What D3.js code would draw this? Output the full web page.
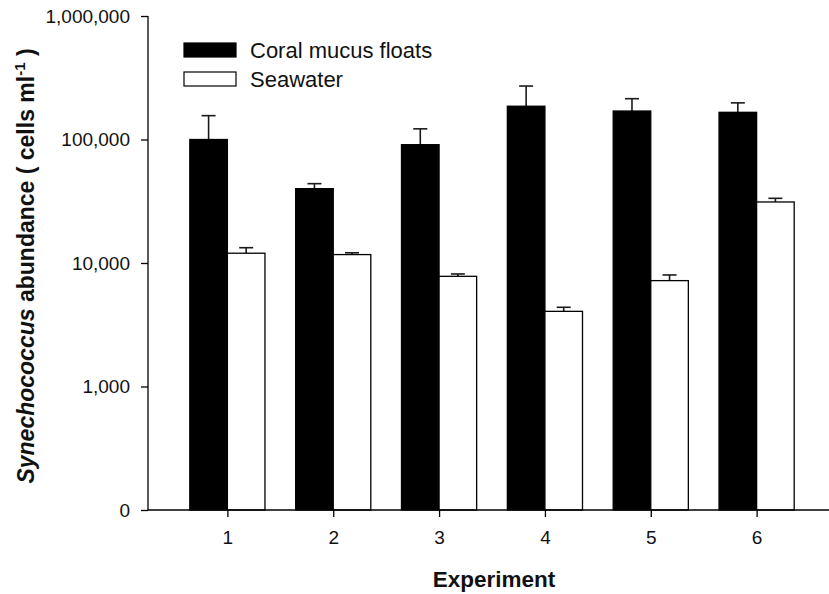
<!DOCTYPE html>
<html>
<head>
<meta charset="utf-8">
<script src="https://cdn.jsdelivr.net/npm/d3@7"></script>
<style>
  html, body { margin: 0; padding: 0; background: #fff; }
  svg { display: block; }
  text { font-family: Arial, "Liberation Sans", sans-serif; fill: #111; }
</style>
</head>
<body>
<svg id="chart" width="829" height="594"></svg>
<script>
// Synechococcus counts per experiment (cells per ml)
const experiments = [1, 2, 3, 4, 5, 6];
const mucusMean  = [100000, 40000, 90800, 186000, 170000, 166000];
const mucusUpper = [156000, 43900, 122000, 271000, 214000, 198000];
const seaMean    = [12000, 11700, 7800, 4060, 7200, 31200];
const seaUpper   = [13300, 12100, 8150, 4380, 8000, 33400];
const yTicks = [100, 1000, 10000, 100000, 1000000];
const yTickLabels = ["0", "1,000", "10,000", "100,000", "1,000,000"];
const seriesNames = ["Coral mucus floats", "Seawater"];

const svg = d3.select("#chart");

const plotLeft = 148, plotBottom = 510, plotTop = 16;
const x = d3.scaleLinear().domain([0.25, 6.75]).range([plotLeft, 836]);
const y = d3.scaleLog().domain([100, 1000000]).range([plotBottom, plotTop]);
const barW = x(0.355) - x(0);

// bars
const mucusBars = experiments.map((e, i) => ({ e, v: mucusMean[i], up: mucusUpper[i], off: -barW, fill: "#000" }));
const seaBars = experiments.map((e, i) => ({ e, v: seaMean[i], up: seaUpper[i], off: 0, fill: "#fff" }));
const bars = mucusBars.concat(seaBars);

// error bars (upper only)
const eg = svg.append("g").attr("stroke", "#1a1a1a").attr("stroke-width", 1.6);
bars.forEach(d => {
  const cx = x(d.e) + d.off + barW / 2;
  eg.append("line").attr("x1", cx).attr("x2", cx).attr("y1", y(d.v)).attr("y2", y(d.up));
  eg.append("line").attr("x1", cx - 7).attr("x2", cx + 7).attr("y1", y(d.up)).attr("y2", y(d.up));
});

svg.append("g").selectAll("rect").data(bars).join("rect")
  .attr("x", d => x(d.e) + d.off)
  .attr("y", d => y(d.v))
  .attr("width", barW)
  .attr("height", d => plotBottom - y(d.v))
  .attr("fill", d => d.fill)
  .attr("stroke", "#000")
  .attr("stroke-width", 1.3);

// axes
const yAxis = d3.axisLeft(y).tickValues(yTicks)
  .tickFormat((d, i) => yTickLabels[i]).tickSize(7).tickPadding(11);
const gy = svg.append("g").attr("transform", `translate(${plotLeft},0)`).call(yAxis);
gy.select(".domain").attr("d", `M-0,${plotTop}V${plotBottom}`);

const xAxis = d3.axisBottom(x).tickValues(experiments).tickSize(7).tickPadding(14)
  .tickFormat(d3.format("d"));
const gx = svg.append("g").attr("transform", `translate(0,${plotBottom})`).call(xAxis);
gx.select(".domain").attr("d", `M${plotLeft},0H829`);

[gx, gy].forEach(g => {
  g.selectAll(".domain, .tick line").attr("stroke", "#000").attr("stroke-width", 1.3);
  g.selectAll("text").style("font-size", "19px").attr("fill", "#111")
    .style("font-family", "Arial, 'Liberation Sans', sans-serif");
});

// axis titles
svg.append("text")
  .attr("x", 494).attr("y", 587)
  .attr("text-anchor", "middle")
  .style("font-size", "22.5px").style("font-weight", "bold")
  .text("Experiment");

const yl = svg.append("text")
  .attr("transform", "translate(34,266) rotate(-90)")
  .attr("text-anchor", "middle")
  .style("font-size", "23px").style("font-weight", "bold");
yl.append("tspan").style("font-style", "italic").text("Synechococcus");
yl.append("tspan").text(" abundance ( cells ml");
yl.append("tspan").attr("dy", -9).style("font-size", "15px").text("-1");
yl.append("tspan").attr("dy", 9).text(" )");

// legend
const lg = svg.append("g");
seriesNames.forEach((name, i) => {
  const ly = 43 + i * 29;
  lg.append("rect").attr("x", 184).attr("y", ly).attr("width", 52).attr("height", 14)
    .attr("fill", i === 0 ? "#000" : "#fff").attr("stroke", "#000").attr("stroke-width", 1.2);
  lg.append("text").attr("x", 250).attr("y", ly + 14.5)
    .style("font-size", "22px").text(name);
});
</script>
</body>
</html>
